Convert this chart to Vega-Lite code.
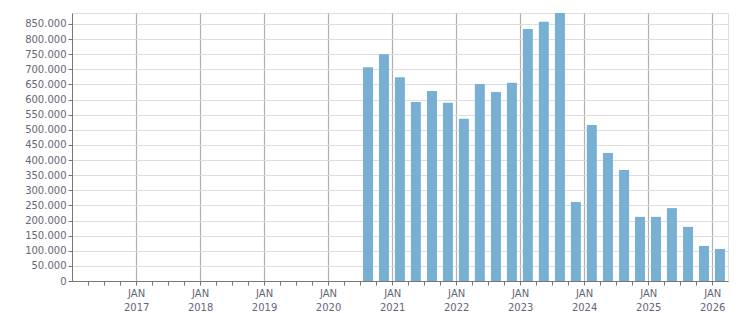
{
  "$schema": "https://vega.github.io/schema/vega-lite/v6.json",
  "width": 656,
  "height": 268,
  "autosize": "none",
  "padding": {"left": 72, "top": 13, "right": 23, "bottom": 32},
  "background": "white",
  "config": {
    "view": {"stroke": "#dddddd", "strokeWidth": 1},
    "axis": {
      "labelFont": "DejaVu Sans",
      "labelFontSize": 10,
      "labelColor": "#666677",
      "domainColor": "#777777",
      "tickColor": "#777777",
      "tickSize": 4,
      "title": null
    }
  },
  "data": {
    "values": [
      {"date": "2020-08-16", "value": 707000},
      {"date": "2020-11-15", "value": 750000},
      {"date": "2021-02-14", "value": 674000},
      {"date": "2021-05-16", "value": 592000},
      {"date": "2021-08-16", "value": 628000},
      {"date": "2021-11-15", "value": 589000},
      {"date": "2022-02-14", "value": 536000},
      {"date": "2022-05-16", "value": 651000},
      {"date": "2022-08-16", "value": 625000},
      {"date": "2022-11-15", "value": 655000},
      {"date": "2023-02-14", "value": 833000},
      {"date": "2023-05-16", "value": 857000},
      {"date": "2023-08-16", "value": 886000},
      {"date": "2023-11-15", "value": 261000},
      {"date": "2024-02-14", "value": 516000},
      {"date": "2024-05-16", "value": 423000},
      {"date": "2024-08-16", "value": 367000},
      {"date": "2024-11-15", "value": 212000},
      {"date": "2025-02-14", "value": 212000},
      {"date": "2025-05-16", "value": 241000},
      {"date": "2025-08-16", "value": 179000},
      {"date": "2025-11-15", "value": 116000},
      {"date": "2026-02-14", "value": 106000}
    ]
  },
  "mark": {"type": "bar", "width": 10, "color": "#77b0d3"},
  "encoding": {
    "x": {
      "field": "date",
      "type": "temporal",
      "scale": {
        "type": "utc",
        "padding": 0,
        "domain": [
          {"year": 2016, "month": 1, "date": 1, "utc": true},
          {"year": 2026, "month": 4, "date": 1, "utc": true}
        ]
      },
      "axis": {
        "values": [
          {"year": 2016, "month": 4, "date": 1, "utc": true},
          {"year": 2016, "month": 7, "date": 1, "utc": true},
          {"year": 2016, "month": 10, "date": 1, "utc": true},
          {"year": 2017, "month": 1, "date": 1, "utc": true},
          {"year": 2017, "month": 4, "date": 1, "utc": true},
          {"year": 2017, "month": 7, "date": 1, "utc": true},
          {"year": 2017, "month": 10, "date": 1, "utc": true},
          {"year": 2018, "month": 1, "date": 1, "utc": true},
          {"year": 2018, "month": 4, "date": 1, "utc": true},
          {"year": 2018, "month": 7, "date": 1, "utc": true},
          {"year": 2018, "month": 10, "date": 1, "utc": true},
          {"year": 2019, "month": 1, "date": 1, "utc": true},
          {"year": 2019, "month": 4, "date": 1, "utc": true},
          {"year": 2019, "month": 7, "date": 1, "utc": true},
          {"year": 2019, "month": 10, "date": 1, "utc": true},
          {"year": 2020, "month": 1, "date": 1, "utc": true},
          {"year": 2020, "month": 4, "date": 1, "utc": true},
          {"year": 2020, "month": 7, "date": 1, "utc": true},
          {"year": 2020, "month": 10, "date": 1, "utc": true},
          {"year": 2021, "month": 1, "date": 1, "utc": true},
          {"year": 2021, "month": 4, "date": 1, "utc": true},
          {"year": 2021, "month": 7, "date": 1, "utc": true},
          {"year": 2021, "month": 10, "date": 1, "utc": true},
          {"year": 2022, "month": 1, "date": 1, "utc": true},
          {"year": 2022, "month": 4, "date": 1, "utc": true},
          {"year": 2022, "month": 7, "date": 1, "utc": true},
          {"year": 2022, "month": 10, "date": 1, "utc": true},
          {"year": 2023, "month": 1, "date": 1, "utc": true},
          {"year": 2023, "month": 4, "date": 1, "utc": true},
          {"year": 2023, "month": 7, "date": 1, "utc": true},
          {"year": 2023, "month": 10, "date": 1, "utc": true},
          {"year": 2024, "month": 1, "date": 1, "utc": true},
          {"year": 2024, "month": 4, "date": 1, "utc": true},
          {"year": 2024, "month": 7, "date": 1, "utc": true},
          {"year": 2024, "month": 10, "date": 1, "utc": true},
          {"year": 2025, "month": 1, "date": 1, "utc": true},
          {"year": 2025, "month": 4, "date": 1, "utc": true},
          {"year": 2025, "month": 7, "date": 1, "utc": true},
          {"year": 2025, "month": 10, "date": 1, "utc": true},
          {"year": 2026, "month": 1, "date": 1, "utc": true}
        ],
        "labelExpr": "utcmonth(datum.value) == 0 ? ['JAN', utcFormat(datum.value, '%Y')] : ''",
        "labelAngle": 0,
        "labelAlign": "center",
        "labelPadding": 3,
        "labelLineHeight": 14,
        "labelOverlap": false,
        "labelFlush": false,
        "grid": true,
        "gridColor": "#b0b0b0",
        "gridWidth": 1.2,
        "gridOpacity": {"condition": {"test": "utcmonth(datum.value) == 0", "value": 1}, "value": 0}
      }
    },
    "y": {
      "field": "value",
      "type": "quantitative",
      "scale": {"domain": [0, 886000], "nice": false},
      "axis": {
        "values": [0, 50000, 100000, 150000, 200000, 250000, 300000, 350000, 400000, 450000, 500000, 550000, 600000, 650000, 700000, 750000, 800000, 850000],
        "labelExpr": "replace(format(datum.value, ','), regexp(',', 'g'), '.')",
        "labelPadding": 2,
        "grid": true,
        "gridColor": "#dddddd",
        "gridWidth": 1
      }
    }
  }
}
